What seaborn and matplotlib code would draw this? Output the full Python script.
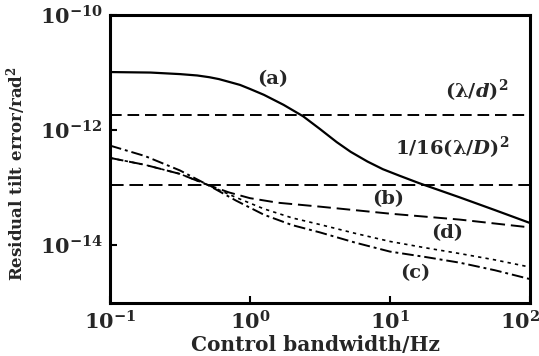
import numpy as np
import pandas as pd
import matplotlib
matplotlib.use("Agg")
import matplotlib.pyplot as plt
import matplotlib.transforms as mtransforms
import seaborn as sns

sns.set_theme(style="white")
plt.rcParams['font.family'] = ['DejaVu Serif']
plt.rcParams['mathtext.fontset'] = 'dejavuserif'

# Curve (a): solid
a_x = [0.1, 0.195, 0.316, 0.42, 0.513, 0.6, 0.708, 0.85, 1.0, 1.26, 1.74, 2.4, 3.16, 4.17, 5.25,
       6.92, 8.91, 11.7, 16.2, 31.6, 56.2, 100.0]
a_y = [1.02e-11, 1.0e-11, 9.4e-12, 8.9e-12, 8.3e-12, 7.7e-12, 6.9e-12, 6.1e-12, 5.2e-12, 4.1e-12, 2.75e-12,
       1.74e-12, 1.05e-12, 6.2e-13, 4.2e-13, 2.85e-13, 2.1e-13, 1.62e-13, 1.2e-13,
       6.8e-14, 4.1e-14, 2.45e-14]
# Curve (b): long dash
b_x = [0.1, 0.178, 0.316, 0.5, 0.708, 1.0, 1.58, 3.16, 10.0, 31.6, 100.0]
b_y = [3.3e-13, 2.5e-13, 1.74e-13, 1.12e-13, 8.3e-14, 6.6e-14, 5.5e-14, 4.7e-14,
       3.55e-14, 2.8e-14, 2.05e-14]
# Curve (c): dash-dot
c_x = [0.1, 0.178, 0.316, 0.5, 0.794, 1.26, 2.0, 3.16, 5.62, 10.0, 17.8, 31.6, 56.2, 100.0]
c_y = [5.4e-13, 3.55e-13, 2.0e-13, 1.12e-13, 6.0e-14, 3.4e-14, 2.25e-14, 1.68e-14,
       1.12e-14, 7.8e-15, 6.3e-15, 5.0e-15, 3.7e-15, 2.6e-15]
# Curve (d): dotted
d_x = [0.1, 0.178, 0.316, 0.5, 0.794, 1.26, 2.0, 3.16, 5.62, 10.0, 17.8, 31.6, 56.2, 100.0]
d_y = [3.3e-13, 2.5e-13, 1.74e-13, 1.12e-13, 6.8e-14, 4.3e-14, 3.0e-14, 2.3e-14,
       1.62e-14, 1.17e-14, 9.1e-15, 7.2e-15, 5.6e-15, 4.2e-15]

# Horizontal reference levels
lam_d_level = 1.8e-12
lam_D16_level = 1.1e-13
ref_x = [0.1, 100.0]

x_ticks = [0.1, 1, 10, 100]
x_ticklabels = [r'$\mathbf{10^{-1}}$', r'$\mathbf{10^{0}}$', r'$\mathbf{10^{1}}$', r'$\mathbf{10^{2}}$']
y_ticks = [1e-14, 1e-12, 1e-10]
y_ticklabels = [r'$\mathbf{10^{-14}}$', r'$\mathbf{10^{-12}}$', r'$\mathbf{10^{-10}}$']

fig = plt.figure(figsize=(5.39, 3.56), dpi=100)
ax = fig.add_axes([0.204, 0.149, 0.779, 0.809])
ax.set_xscale('log')
ax.set_yscale('log')

def draw(xs, ys, lw, dashes=None):
    df = pd.DataFrame({'x': xs, 'y': ys})
    sns.lineplot(data=df, x='x', y='y', ax=ax, color='black', lw=lw,
                 estimator=None, sort=False)
    if dashes is not None:
        ax.lines[-1].set_dashes(dashes)

draw(a_x, a_y, 1.6)
draw(b_x, b_y, 1.4, [7, 3])
draw(c_x, c_y, 1.4, [6, 2, 1.5, 2])
draw(d_x, d_y, 1.2, [2, 2.5])
draw(ref_x, [lam_d_level] * 2, 1.4, [6, 3])
draw(ref_x, [lam_D16_level] * 2, 1.4, [7, 3])

ax.set_xlim(0.1, 100)
ax.set_ylim(1e-15, 1e-10)

ax.set_xticks(x_ticks)
ax.set_xticklabels(x_ticklabels)
ax.set_yticks(y_ticks)
ax.set_yticklabels(y_ticklabels)
ax.minorticks_off()
ax.tick_params(axis='both', which='major', direction='in', length=5, width=1.5,
               labelsize=15, pad=5, color='black', bottom=True, left=True)
last = ax.get_xticklabels()[-1]
last.set_transform(last.get_transform() + mtransforms.ScaledTranslation(-10 / 100, 0, fig.dpi_scale_trans))

for s in ax.spines.values():
    s.set_linewidth(2.2)
    s.set_color('black')

ax.set_xlabel('Control bandwidth/Hz', fontsize=14.5, fontweight='bold')
ax.set_ylabel(r'Residual tilt error/rad$^\mathbf{2}$', fontsize=12, fontweight='bold')
ax.xaxis.set_label_coords(0.49, -0.11)
ax.yaxis.set_label_coords(-0.195, 0.45)

tk = dict(fontsize=14, fontweight='bold', ha='center', va='center')
ax.text(1.46, 7.8e-12, '(a)', **tk)
ax.text(42, 4.7e-12, r'$\mathbf{(}\boldsymbol{\lambda}\mathbf{/}\boldsymbol{d}\mathbf{)^2}$', **tk)
ax.text(27.7, 4.9e-13, r'$\mathbf{1/16(}\boldsymbol{\lambda}\mathbf{/}\boldsymbol{D}\mathbf{)^2}$', **tk)
ax.text(9.7, 6.3e-14, '(b)', **tk)
ax.text(25.5, 1.66e-14, '(d)', **tk)
ax.text(15.3, 3.3e-15, '(c)', **tk)

fig.savefig('out.png', dpi=100)
